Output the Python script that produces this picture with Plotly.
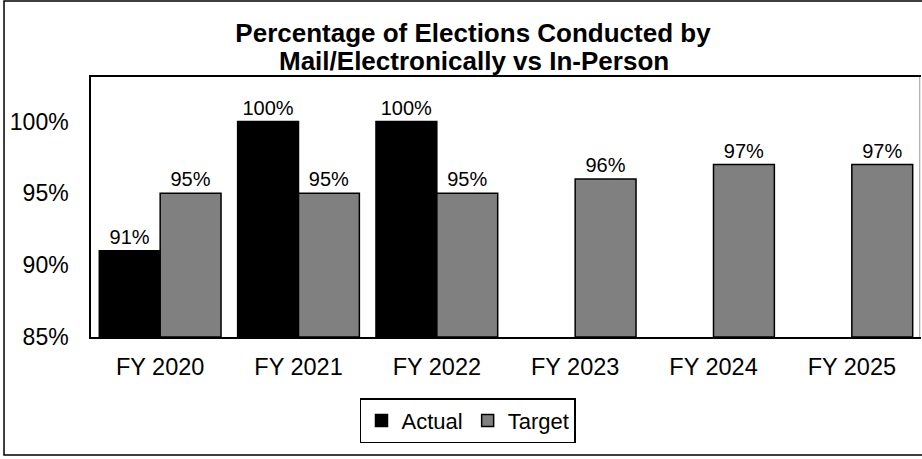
import plotly.graph_objects as go

categories = ["FY 2020", "FY 2021", "FY 2022", "FY 2023", "FY 2024", "FY 2025"]
actual = [91, 100, 100, None, None, None]
target = [95, 95, 95, 96, 97, 97]
ytick_vals = [85, 90, 95, 100]
ytick_text = ["85%", "90%", "95%", "100%"]
title_lines = ["Percentage of Elections Conducted by", "Mail/Electronically vs In-Person"]
BASE = 85

def lbl(vals):
    return ["" if v is None else f"{v}%" for v in vals]

fig = go.Figure()
fig.add_trace(go.Bar(name="Actual", x=categories, y=[None if v is None else v - BASE for v in actual],
                     base=BASE, marker=dict(color="#000000", line=dict(color="#000000", width=1.5)),
                     text=lbl(actual), textposition="outside",
                     textfont=dict(size=20, color="#000000"), cliponaxis=False))
fig.add_trace(go.Bar(name="Target", x=categories, y=[v - BASE for v in target],
                     base=BASE, marker=dict(color="#808080", line=dict(color="#000000", width=1.5)),
                     text=lbl(target), textposition="outside",
                     textfont=dict(size=20, color="#000000"), cliponaxis=False))

fig.update_layout(
    width=922, height=459,
    margin=dict(l=91, r=1, t=77, b=122),
    paper_bgcolor="white", plot_bgcolor="white",
    font=dict(family="Liberation Sans, Arial", color="#000000", size=22),
    title=dict(text=f"<b>{title_lines[0]}</b>",
               x=0.513, xanchor="center", y=0.928, yref="container", yanchor="middle",
               font=dict(size=26, color="#000000")),
    annotations=[dict(text=f"<b>{title_lines[1]}</b>", xref="paper", yref="paper",
                      x=0.4614, y=1.0615, xanchor="center", yanchor="middle",
                      showarrow=False, font=dict(size=26, color="#000000"))],
    barmode="group", bargap=0.12, bargroupgap=0,
    showlegend=True,
    legend=dict(orientation="h", x=0.4542, xanchor="center", y=-0.235, yanchor="top",
                bordercolor="#000000", borderwidth=1.5, font=dict(size=22),
                itemwidth=30, tracegroupgap=0),
    xaxis=dict(showline=True, linecolor="#000000", linewidth=2, mirror=True,
               ticks="", tickfont=dict(size=23.5), ticklabelstandoff=8),
    yaxis=dict(range=[85, 103.1], tickvals=ytick_vals, ticktext=ytick_text,
               showgrid=False, zeroline=False, showline=True, linecolor="#000000",
               linewidth=1.5, mirror=False, ticks="", tickfont=dict(size=23),
               ticklabelstandoff=16),
    shapes=[dict(type="rect", xref="paper", yref="paper",
                 x0=-0.1048, x1=1.02, y0=-0.4538, y1=1.2923,
                 line=dict(color="#000000", width=1.5), fillcolor="rgba(0,0,0,0)"),
            dict(type="line", xref="paper", yref="paper", x0=0.9985, x1=0.9985, y0=0, y1=1,
                 line=dict(color="#9a9a9a", width=1))],
)

fig.write_html("out.html", config={"displayModeBar": False},
               post_script="document.body.style.margin='0';")
